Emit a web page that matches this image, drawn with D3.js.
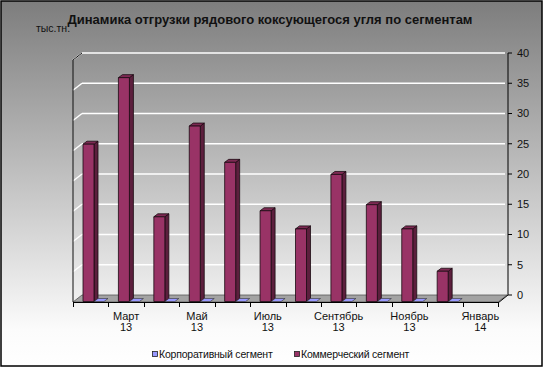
<!DOCTYPE html>
<html>
<head>
<meta charset="utf-8">
<script src="https://d3js.org/d3.v7.min.js"></script>
<style>
  body { margin: 0; }
  svg { display: block; font-family: "Liberation Sans", Arial, sans-serif; }
</style>
</head>
<body>
<svg id="chart" width="543" height="368"></svg>
<script>
// data
const months = ['Февраль','Март','Апрель','Май','Июнь','Июль','Август','Сентябрь','Октябрь','Ноябрь','Декабрь','Январь'];
const years = ['13','13','13','13','13','13','13','13','13','13','13','14'];
const commercial = [26, 37, 14, 29, 23, 15, 12, 21, 16, 12, 5, null];
const corporate = [0, 0, 0, 0, 0, 0, 0, 0, 0, 0, 0, null];
const yTicks = [0, 5, 10, 15, 20, 25, 30, 35, 40];
const seriesNames = ['Корпоративный сегмент', 'Коммерческий сегмент'];

const svg = d3.select('#chart');
const W = 543, H = 368;

// background gradient
const defs = svg.append('defs');
const grad = defs.append('linearGradient').attr('id', 'bg')
    .attr('x1', 0).attr('y1', 0).attr('x2', 0).attr('y2', 1);
grad.append('stop').attr('offset', '0%').attr('stop-color', '#7d7d7d');
grad.append('stop').attr('offset', '90%').attr('stop-color', '#fbfbfb');
grad.append('stop').attr('offset', '100%').attr('stop-color', '#ffffff');

svg.append('rect').attr('x', 1).attr('y', 1).attr('width', W - 2).attr('height', H - 3)
    .attr('fill', 'url(#bg)').attr('stroke', '#000').attr('stroke-width', 1.5);

// 3d frame
const depth = {dx: 9, dy: -7};       // front -> back offset
const front = {x0: 73, x1: 498, y0: 302};
const back = {x0: front.x0 + depth.dx, x1: front.x1 + depth.dx};

const y = d3.scaleLinear().domain([0, 40]).range([front.y0 + depth.dy, 53]);
const x = d3.scaleBand().domain(d3.range(months.length)).range([front.x0, front.x1]);
const sub = d3.scaleBand().domain(['com', 'corp']).range([10, 32]);

const poly = pts => 'M' + pts.map(p => p.join(',')).join('L') + 'Z';

// floor
svg.append('path')
    .attr('d', poly([[back.x0, y(0)], [back.x1, y(0)], [front.x1, front.y0], [front.x0, front.y0]]))
    .attr('fill', '#a3a3a3').attr('stroke', '#555').attr('stroke-width', 0.8);
svg.append('line')
    .attr('x1', front.x0).attr('x2', front.x1).attr('y1', front.y0 + 0.5).attr('y2', front.y0 + 0.5)
    .attr('stroke', '#000');

// gridlines on back wall and left wall
yTicks.filter(t => t > 0).forEach(t => {
    svg.append('line')
        .attr('x1', back.x0).attr('x2', back.x1 - 2).attr('y1', y(t)).attr('y2', y(t))
        .attr('stroke', '#fff').attr('stroke-width', 1.5);
    svg.append('line')
        .attr('x1', front.x0).attr('x2', back.x0).attr('y1', y(t) - depth.dy).attr('y2', y(t))
        .attr('stroke', '#fff').attr('stroke-width', 1.5);
});

// left wall edges
svg.append('path')
    .attr('d', `M${front.x0},${front.y0}L${front.x0},${y(40) - depth.dy}L${back.x0},${y(40)}`)
    .attr('fill', 'none').attr('stroke', '#111').attr('stroke-width', 1);

// right value axis
const axX = back.x1 + 1;
svg.append('path')
    .attr('d', `M${front.x1},${front.y0 + 1}L${axX},${y(0)}L${axX},${y(40)}`)
    .attr('fill', 'none').attr('stroke', '#000').attr('stroke-width', 1);
yTicks.forEach(t => {
    svg.append('line').attr('x1', axX).attr('x2', axX + 4).attr('y1', y(t)).attr('y2', y(t))
        .attr('stroke', '#000');
    svg.append('text').attr('x', axX + 9).attr('y', y(t)).attr('dy', '0.35em')
        .attr('font-size', 11).attr('fill', '#111').text(t);
});

// category ticks and labels
d3.range(months.length + 1).forEach(i => {
    const tx = Math.round(front.x0 + i * x.step()) + 0.5;
    svg.append('line').attr('x1', tx).attr('x2', tx).attr('y1', front.y0).attr('y2', front.y0 + 5)
        .attr('stroke', '#000');
});
months.forEach((m, i) => {
    if (i % 2 === 0) return;
    const cx = x(i) + x.bandwidth() / 2;
    const t = svg.append('text').attr('text-anchor', 'middle').attr('font-size', 11).attr('fill', '#111');
    t.append('tspan').attr('x', cx).attr('y', front.y0 + 18).text(m);
    t.append('tspan').attr('x', cx).attr('y', front.y0 + 29).text(years[i]);
});

// bars
const bd = {dx: 4, dy: -3};
const base = front.y0 - 0.5;
const vh = v => y(0) - y(v);

commercial.forEach((v, i) => {
    if (v === null) return;
    const x0 = x(i) + sub('com'), x1 = x0 + sub.bandwidth();
    const top = base - vh(v);
    const g = svg.append('g').attr('stroke', '#1a0a12').attr('stroke-width', 0.8).attr('stroke-linejoin', 'round');
    g.append('path').attr('d', poly([[x1, base], [x1 + bd.dx, base + bd.dy], [x1 + bd.dx, top + bd.dy], [x1, top]]))
        .attr('fill', '#5c1f3d');
    g.append('path').attr('d', poly([[x0, top], [x1, top], [x1 + bd.dx, top + bd.dy], [x0 + bd.dx, top + bd.dy]]))
        .attr('fill', '#7d2a53');
    g.append('rect').attr('x', x0).attr('y', top).attr('width', x1 - x0).attr('height', base - top)
        .attr('fill', '#993366');
});

corporate.forEach((v, i) => {
    if (v === null) return;
    const x0 = x(i) + sub('corp'), x1 = x0 + sub.bandwidth() - 1;
    const top = base - vh(v);
    svg.append('path')
        .attr('d', poly([[x0, top], [x1, top], [x1 + bd.dx, top + bd.dy], [x0 + bd.dx, top + bd.dy]]))
        .attr('fill', '#9999ff').attr('stroke', '#333').attr('stroke-width', 0.6);
});

// titles
svg.append('text').attr('x', 270).attr('y', 24).attr('text-anchor', 'middle')
    .attr('font-size', 13).attr('font-weight', 'bold').attr('fill', '#111')
    .text('Динамика отгрузки рядового коксующегося угля по сегментам');
svg.append('text').attr('x', 36).attr('y', 32).attr('font-size', 10.5).attr('fill', '#111')
    .text('тыс.тн.');

// legend
const legendColors = ['#9999ff', '#993366'];
const legendX = [152, 294];
seriesNames.forEach((n, i) => {
    svg.append('rect').attr('x', legendX[i] + 0.5).attr('y', 351.5).attr('width', 5).attr('height', 5)
        .attr('fill', legendColors[i]).attr('stroke', '#222').attr('stroke-width', 0.8);
    svg.append('text').attr('x', legendX[i] + 7).attr('y', 354).attr('dy', '0.35em')
        .attr('font-size', 10.5).attr('fill', '#111').attr('letter-spacing', -0.2).text(n);
});
</script>
</body>
</html>
